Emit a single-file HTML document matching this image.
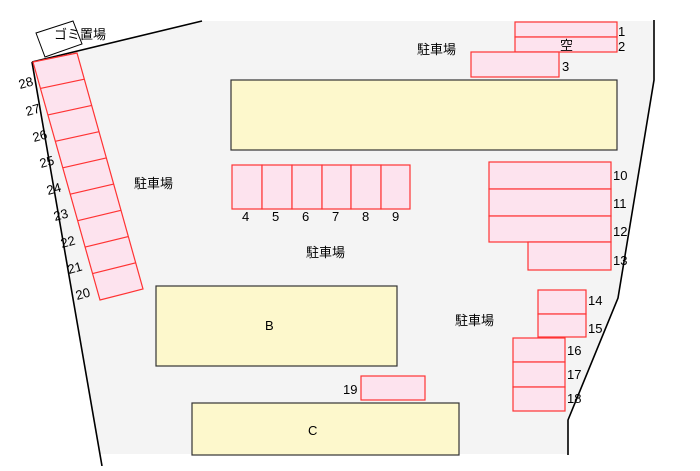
<!DOCTYPE html>
<html><head><meta charset="utf-8"><style>
html,body{margin:0;padding:0;background:#fff}
text{font-family:"Liberation Sans","Noto Sans CJK JP",sans-serif;font-size:13px;fill:#000}
</style></head><body>
<svg width="700" height="466" viewBox="0 0 700 466" xmlns="http://www.w3.org/2000/svg">
<polygon points="32,62 202,21 655,21 655,80 618,298 568,420 568,454 99,454" fill="#f4f4f4"/>
<polygon points="36,33 73,21 82,44 45,57" fill="#fff" stroke="#000" stroke-width="1"/>
<g fill="none" stroke="#000" stroke-width="1.6">
<polyline points="32,62 202,21"/>
<polyline points="32,62 102,466"/>
<polyline points="654,20 654,80 618,298 568,420 568,455"/>
</g>
<text x="54" y="39">ゴミ置場</text>
<g fill="#fde3ee" stroke="#f33" stroke-width="1.2">
<polygon points="33,62 77,53 143,289 100,300"/>
</g>
<g stroke="#f33" stroke-width="1.2">
<line x1="40.4" y1="88.4" x2="84.3" y2="79.2"/>
<line x1="47.9" y1="114.9" x2="91.7" y2="105.4"/>
<line x1="55.3" y1="141.3" x2="99" y2="131.7"/>
<line x1="62.8" y1="167.8" x2="106.3" y2="157.9"/>
<line x1="70.2" y1="194.2" x2="113.7" y2="184.1"/>
<line x1="77.7" y1="220.7" x2="121" y2="210.3"/>
<line x1="85.1" y1="247.1" x2="128.3" y2="236.6"/>
<line x1="92.6" y1="273.6" x2="135.7" y2="262.8"/>
</g>
<g>
<text transform="translate(20,89) rotate(-15)">28</text>
<text transform="translate(27,116) rotate(-15)">27</text>
<text transform="translate(34,142) rotate(-15)">26</text>
<text transform="translate(41,168) rotate(-15)">25</text>
<text transform="translate(48,195) rotate(-15)">24</text>
<text transform="translate(55,221) rotate(-15)">23</text>
<text transform="translate(62,248) rotate(-15)">22</text>
<text transform="translate(69,274) rotate(-15)">21</text>
<text transform="translate(77,300) rotate(-15)">20</text>
</g>
<g fill="#fdf8cc" stroke="#333" stroke-width="1.2">
<rect x="231" y="80" width="386" height="70"/>
<rect x="156" y="286" width="241" height="80"/>
<rect x="192" y="403" width="267" height="52"/>
</g>
<text x="265" y="330">B</text>
<text x="308" y="435">C</text>
<g fill="#fde3ee" stroke="#f33" stroke-width="1.2">
<rect x="515" y="22" width="102" height="15"/>
<rect x="515" y="37" width="102" height="15"/>
<rect x="471" y="52" width="88" height="25"/>
<rect x="232" y="165" width="30" height="44"/>
<rect x="262" y="165" width="30" height="44"/>
<rect x="292" y="165" width="30" height="44"/>
<rect x="322" y="165" width="29" height="44"/>
<rect x="351" y="165" width="30" height="44"/>
<rect x="381" y="165" width="29" height="44"/>
<rect x="489" y="162" width="122" height="27"/>
<rect x="489" y="189" width="122" height="27"/>
<rect x="489" y="216" width="122" height="26"/>
<rect x="528" y="242" width="83" height="28"/>
<rect x="538" y="290" width="48" height="24"/>
<rect x="538" y="314" width="48" height="23"/>
<rect x="513" y="338" width="52" height="24"/>
<rect x="513" y="362" width="52" height="25"/>
<rect x="513" y="387" width="52" height="24"/>
<rect x="361" y="376" width="64" height="24"/>
</g>
<text x="618" y="36">1</text><text x="618" y="51">2</text><text x="560" y="50">空</text>
<text x="562" y="71">3</text>
<text x="242" y="221">4</text><text x="272" y="221">5</text><text x="302" y="221">6</text><text x="332" y="221">7</text><text x="362" y="221">8</text><text x="392" y="221">9</text>
<text x="613" y="180">10</text><text x="613" y="208">11</text><text x="613" y="236">12</text><text x="613" y="265">13</text>
<text x="588" y="305">14</text><text x="588" y="333">15</text>
<text x="567" y="355">16</text><text x="567" y="379">17</text><text x="567" y="403">18</text>
<text x="343" y="394">19</text>
<text x="417" y="54">駐車場</text>
<text x="134" y="188">駐車場</text>
<text x="306" y="257">駐車場</text>
<text x="455" y="325">駐車場</text>
</svg>
</body></html>
